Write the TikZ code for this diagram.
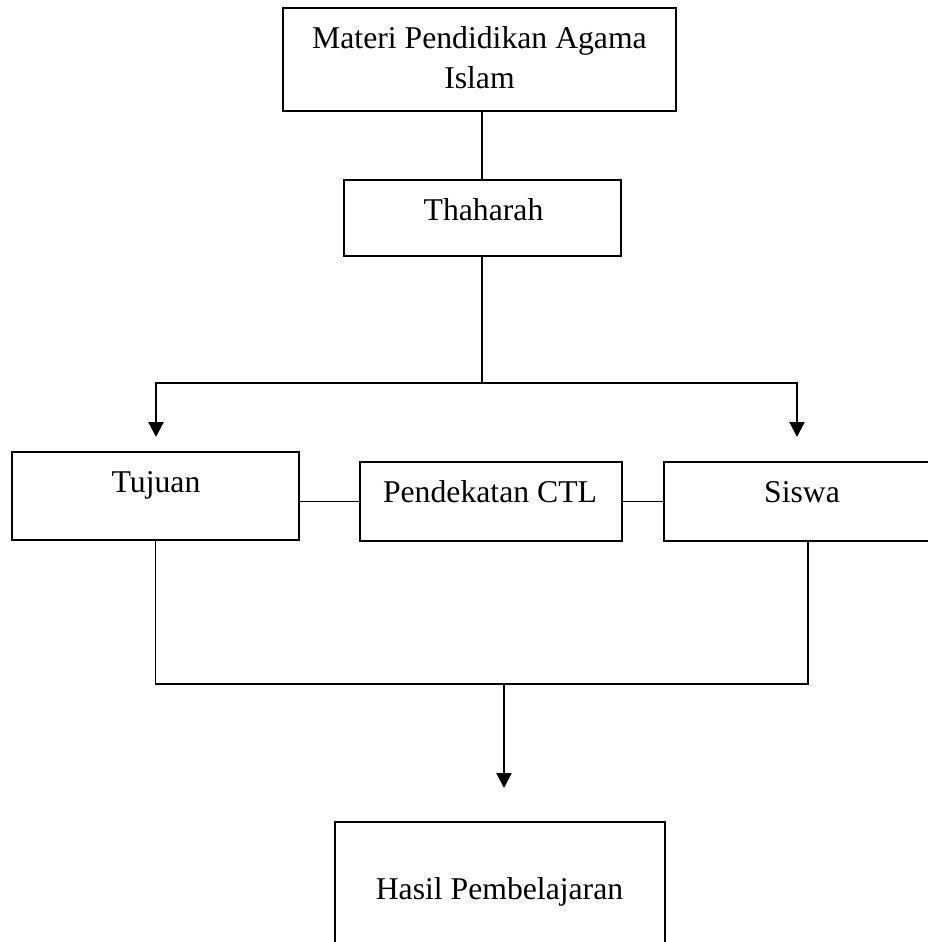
\documentclass[tikz,border=0pt]{standalone}
\usepackage{fontspec}
\setmainfont{Liberation Serif}
\usepackage{tikz}
\usetikzlibrary{arrows.meta}

\begin{document}
\begin{tikzpicture}[x=1pt, y=-1pt, line width=1.6pt,
    font=\fontsize{31.7}{40}\selectfont,
    kotak/.style={draw, inner sep=0pt, minimum width=#1},
    teks/.style={anchor=base, inner sep=0pt},
    panah/.style={-{Triangle[width=15pt, length=15pt]}, line width=2.2pt}]
      \useasboundingbox (0, 0) rectangle (927, 942);
      \node[kotak=393pt, minimum height=103pt] (materi) at (479.5, 59.5) {};
      \node[kotak=277pt, minimum height=76pt] (thaharah) at (482.5, 218) {};
      \node[kotak=287pt, minimum height=88pt] (tujuan) at (155.5, 496) {};
      \node[kotak=262pt, minimum height=79pt] (ctl) at (491, 501.5) {};
      \node[kotak=276pt, minimum height=79pt] (siswa) at (802, 501.5) {};
      \node[kotak=330pt, minimum height=178pt] (hasil) at (500, 911) {};
      \node[align=center, inner sep=0pt] (materiteks) at (479.5, 57.2) {Materi Pendidikan Agama\\Islam};
      \node[teks] (thaharahteks) at (483.5, 220) {Thaharah};
      \node[teks] (tujuanteks) at (156, 492) {Tujuan};
      \node[teks] (ctlteks) at (490, 502) {Pendekatan CTL};
      \node[teks] (siswateks) at (802, 502) {Siswa};
      \node[teks] (hasilteks) at (499.5, 899) {Hasil Pembelajaran};
      \coordinate (cabang) at (482, 383);
      \coordinate (kiri) at (156, 437);
      \coordinate (kanan) at (797, 437);
      \coordinate (gabung) at (504, 684);
      \coordinate (ujung) at (504, 788);
      \draw ([xshift=-0.5pt]thaharah.north) -- ([xshift=-0.5pt]thaharah.north |- materi.south);
      \draw ([xshift=-0.5pt]thaharah.south) -- (cabang);
      \draw[panah] (cabang) -| (kiri);
      \draw[panah] (cabang) -| (kanan);
      \draw (tujuan.east |- ctl.west) -- (ctl.west);
      \draw (ctl.east) -- (siswa.west);
      \draw (tujuan.south) |- (gabung);
      \draw ([xshift=6pt]siswa.south) |- (gabung);
      \draw[panah] (gabung) -- (ujung);
    \end{tikzpicture}
\end{document}
